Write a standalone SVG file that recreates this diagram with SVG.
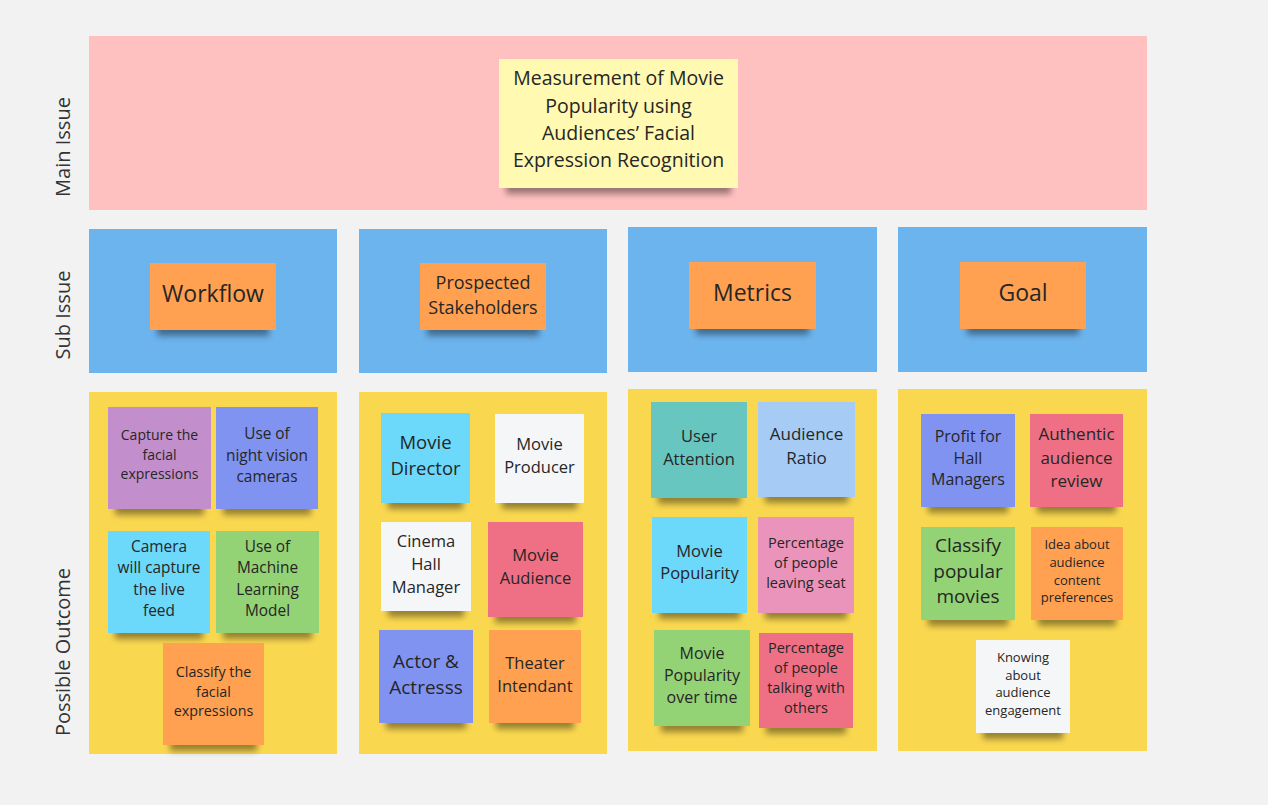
<svg xmlns="http://www.w3.org/2000/svg" width="1268" height="805" viewBox="0 0 1268 805">
<defs>
<filter id="sh" x="-10%" y="-10%" width="120%" height="130%">
<feMorphology in="SourceAlpha" operator="erode" radius="7 0" result="e"/>
<feOffset in="e" dy="6" result="o"/>
<feGaussianBlur in="o" stdDeviation="3" result="b"/>
<feComponentTransfer in="b" result="c"><feFuncA type="linear" slope="0.4"/></feComponentTransfer>
<feMerge><feMergeNode in="c"/><feMergeNode in="SourceGraphic"/></feMerge>
</filter>
</defs>
<style>
text{font-family:"Open Sans","Noto Sans","DejaVu Sans",sans-serif;fill:#262626;text-anchor:middle}
.lbl{font-size:20px;fill:#333}
.n{filter:url(#sh)}
.band{fill:#ffc0c0}
.sub{fill:#6cb4ee}
.out{fill:#f9d74f}
.ylw{fill:#fff9b1}
.org{fill:#ffa151}
.vio{fill:#c28fcc}
.blu{fill:#8093f1}
.cya{fill:#6cd8fa}
.grn{fill:#93d275}
.wht{fill:#f5f6f8}
.red{fill:#ef6f84}
.tea{fill:#67c6c0}
.lbl2{fill:#a6ccf5}
.pnk{fill:#ea94bb}
</style>
<rect width="1268" height="805" fill="#f2f2f2"/>

<g id="labels">
<text class="lbl" transform="translate(70,147) rotate(-90)">Main Issue</text>
<text class="lbl" transform="translate(70,315) rotate(-90)">Sub Issue</text>
<text class="lbl" transform="translate(70,652) rotate(-90)">Possible Outcome</text>
</g>

<g id="frames">
<rect class="band" x="89" y="36" width="1058" height="174"/>
<rect class="sub" x="89" y="229" width="248" height="144"/>
<rect class="sub" x="359" y="229" width="248" height="144"/>
<rect class="sub" x="628" y="227" width="249" height="145"/>
<rect class="sub" x="898" y="227" width="249" height="145"/>
<rect class="out" x="89" y="392" width="248" height="362"/>
<rect class="out" x="359" y="392" width="248" height="362"/>
<rect class="out" x="628" y="389" width="249" height="362"/>
<rect class="out" x="898" y="389" width="249" height="362"/>
</g>

<g id="connectors"/>

<g id="main-issue">
<rect class="n ylw" x="499" y="59" width="239" height="129"/>
<text style="font-size:19.5px"><tspan x="618.5" y="85">Measurement of Movie</tspan><tspan x="618.5" y="112.5">Popularity using</tspan><tspan x="618.5" y="140">Audiences’ Facial</tspan><tspan x="618.5" y="167">Expression Recognition</tspan></text>
</g>

<g id="sub-workflow">
<rect class="n org" x="150" y="263" width="126" height="67"/>
<text style="font-size:23px" x="213" y="302">Workflow</text>
</g>
<g id="sub-stakeholders">
<rect class="n org" x="420" y="263" width="126" height="67"/>
<text style="font-size:18px"><tspan x="483" y="288.5">Prospected</tspan><tspan x="483" y="313.5">Stakeholders</tspan></text>
</g>
<g id="sub-metrics">
<rect class="n org" x="689" y="262" width="127" height="67"/>
<text style="font-size:23px" x="752.5" y="301">Metrics</text>
</g>
<g id="sub-goal">
<rect class="n org" x="960" y="262" width="126" height="67"/>
<text style="font-size:23px" x="1023" y="301">Goal</text>
</g>

<g id="wf-capture">
<rect class="n vio" x="108" y="407" width="103" height="102"/>
<text style="font-size:14px"><tspan x="159.5" y="440">Capture the</tspan><tspan x="159.5" y="460">facial</tspan><tspan x="159.5" y="479">expressions</tspan></text>
</g>
<g id="wf-night">
<rect class="n blu" x="216" y="407" width="102" height="102"/>
<text style="font-size:15.4px"><tspan x="267" y="438.5">Use of</tspan><tspan x="267" y="460.5">night vision</tspan><tspan x="267" y="481.5">cameras</tspan></text>
</g>
<g id="wf-camera">
<rect class="n cya" x="108" y="531" width="102" height="102"/>
<text style="font-size:15.4px"><tspan x="159" y="552">Camera</tspan><tspan x="159" y="573">will capture</tspan><tspan x="159" y="594.5">the live</tspan><tspan x="159" y="615.5">feed</tspan></text>
</g>
<g id="wf-ml">
<rect class="n grn" x="216" y="531" width="103" height="102"/>
<text style="font-size:15.4px"><tspan x="267.5" y="552">Use of</tspan><tspan x="267.5" y="573">Machine</tspan><tspan x="267.5" y="594.5">Learning</tspan><tspan x="267.5" y="615.5">Model</tspan></text>
</g>
<g id="wf-classify">
<rect class="n org" x="163" y="643" width="101" height="102"/>
<text style="font-size:14.3px"><tspan x="213.5" y="677">Classify the</tspan><tspan x="213.5" y="697">facial</tspan><tspan x="213.5" y="716">expressions</tspan></text>
</g>

<g id="sh-director">
<rect class="n cya" x="381" y="413" width="89" height="90"/>
<text style="font-size:18.5px"><tspan x="425.5" y="449.4">Movie</tspan><tspan x="425.5" y="475">Director</tspan></text>
</g>
<g id="sh-producer">
<rect class="n wht" x="495" y="414" width="89" height="89"/>
<text style="font-size:16.5px"><tspan x="539.5" y="450">Movie</tspan><tspan x="539.5" y="472.7">Producer</tspan></text>
</g>
<g id="sh-cinema">
<rect class="n wht" x="381" y="522" width="90" height="89"/>
<text style="font-size:16.5px"><tspan x="426" y="546.6">Cinema</tspan><tspan x="426" y="570">Hall</tspan><tspan x="426" y="593.3">Manager</tspan></text>
</g>
<g id="sh-audience">
<rect class="n red" x="488" y="522" width="95" height="95"/>
<text style="font-size:16.5px"><tspan x="535.5" y="561">Movie</tspan><tspan x="535.5" y="584.3">Audience</tspan></text>
</g>
<g id="sh-actor">
<rect class="n blu" x="379" y="630" width="94" height="93"/>
<text style="font-size:19px"><tspan x="426" y="667.5">Actor &amp;</tspan><tspan x="426" y="693.5">Actresss</tspan></text>
</g>
<g id="sh-theater">
<rect class="n org" x="489" y="630" width="92" height="93"/>
<text style="font-size:16.5px"><tspan x="535" y="668.6">Theater</tspan><tspan x="535" y="692">Intendant</tspan></text>
</g>

<g id="m-attention">
<rect class="n tea" x="651" y="402" width="96" height="96"/>
<text style="font-size:16.5px"><tspan x="699" y="441.6">User</tspan><tspan x="699" y="465">Attention</tspan></text>
</g>
<g id="m-ratio">
<rect class="n lbl2" x="758" y="402" width="97" height="95"/>
<text style="font-size:17px"><tspan x="806.5" y="440.4">Audience</tspan><tspan x="806.5" y="464.4">Ratio</tspan></text>
</g>
<g id="m-popularity">
<rect class="n cya" x="652" y="517" width="95" height="96"/>
<text style="font-size:16.5px"><tspan x="699.5" y="557.2">Movie</tspan><tspan x="699.5" y="579.2">Popularity</tspan></text>
</g>
<g id="m-leaving">
<rect class="n pnk" x="758" y="517" width="96" height="96"/>
<text style="font-size:14.5px"><tspan x="806" y="547.5">Percentage</tspan><tspan x="806" y="567.5">of people</tspan><tspan x="806" y="587.5">leaving seat</tspan></text>
</g>
<g id="m-overtime">
<rect class="n grn" x="654" y="630" width="96" height="96"/>
<text style="font-size:16px"><tspan x="702" y="659">Movie</tspan><tspan x="702" y="680.8">Popularity</tspan><tspan x="702" y="702.5">over time</tspan></text>
</g>
<g id="m-talking">
<rect class="n red" x="759" y="633" width="94" height="95"/>
<text style="font-size:14.5px"><tspan x="806" y="653">Percentage</tspan><tspan x="806" y="673">of people</tspan><tspan x="806" y="693">talking with</tspan><tspan x="806" y="713">others</tspan></text>
</g>

<g id="g-profit">
<rect class="n blu" x="921" y="414" width="94" height="93"/>
<text style="font-size:16px"><tspan x="968" y="441.8">Profit for</tspan><tspan x="968" y="463.5">Hall</tspan><tspan x="968" y="485">Managers</tspan></text>
</g>
<g id="g-authentic">
<rect class="n red" x="1030" y="414" width="93" height="93"/>
<text style="font-size:17px"><tspan x="1076.5" y="440.4">Authentic</tspan><tspan x="1076.5" y="464.4">audience</tspan><tspan x="1076.5" y="486.8">review</tspan></text>
</g>
<g id="g-classify">
<rect class="n grn" x="921" y="527" width="94" height="93"/>
<text style="font-size:19px"><tspan x="968" y="551.8">Classify</tspan><tspan x="968" y="577.5">popular</tspan><tspan x="968" y="602.8">movies</tspan></text>
</g>
<g id="g-idea">
<rect class="n org" x="1031" y="527" width="92" height="93"/>
<text style="font-size:13px"><tspan x="1077" y="548.7">Idea about</tspan><tspan x="1077" y="567.4">audience</tspan><tspan x="1077" y="584.7">content</tspan><tspan x="1077" y="602">preferences</tspan></text>
</g>
<g id="g-knowing">
<rect class="n wht" x="976" y="640" width="94" height="93"/>
<text style="font-size:13px"><tspan x="1023" y="662.4">Knowing</tspan><tspan x="1023" y="679.7">about</tspan><tspan x="1023" y="697.4">audience</tspan><tspan x="1023" y="715.4">engagement</tspan></text>
</g>
</svg>
